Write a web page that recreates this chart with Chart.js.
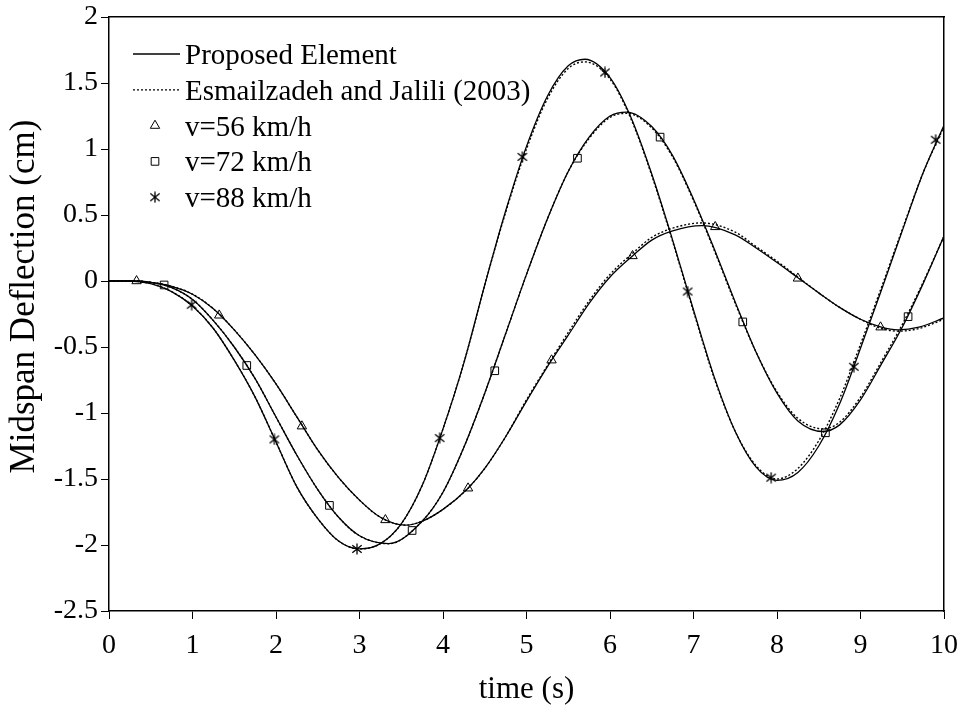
<!DOCTYPE html>
<html>
<head>
<meta charset="utf-8">
<script src="https://cdn.jsdelivr.net/npm/chart.js@4.4.0/dist/chart.umd.min.js"></script>
<style>
  html, body { margin: 0; padding: 0; background: #fff; }
</style>
</head>
<body>
<canvas id="deflectionChart" width="964" height="711"></canvas>
<script>
// axis ticks
const xTicks = [0, 1, 2, 3, 4, 5, 6, 7, 8, 9, 10];
const yTicks = [-2.5, -2, -1.5, -1, -0.5, 0, 0.5, 1, 1.5, 2];

// Proposed Element (solid)
const t56 = [0, 0.25, 0.5, 0.75, 1.0, 1.25, 1.5, 1.75, 2.0, 2.25, 2.5, 2.75, 3.0, 3.25, 3.55, 3.75, 4.0, 4.3, 4.5, 4.75, 5.0, 5.3, 5.5, 5.75, 6.0, 6.27, 6.5, 6.75, 7.1, 7.5, 7.75, 8.0, 8.25, 8.5, 8.75, 9.0, 9.25, 9.45, 9.7, 10];
const v56 = [0, 0, -0.01, -0.04, -0.10, -0.21, -0.37, -0.56, -0.78, -1.03, -1.28, -1.49, -1.66, -1.79, -1.85, -1.82, -1.73, -1.57, -1.42, -1.18, -0.91, -0.60, -0.41, -0.17, 0.03, 0.19, 0.31, 0.38, 0.42, 0.35, 0.25, 0.14, 0.025, -0.09, -0.20, -0.29, -0.35, -0.37, -0.35, -0.28];

const t72 = [0, 0.25, 0.5, 0.75, 1.0, 1.25, 1.5, 1.75, 2.0, 2.25, 2.5, 2.75, 3.0, 3.35, 3.75, 4.0, 4.25, 4.5, 4.75, 5.0, 5.25, 5.5, 5.75, 6.0, 6.2, 6.5, 6.75, 7.0, 7.25, 7.5, 7.75, 8.0, 8.25, 8.55, 8.75, 9.0, 9.25, 9.5, 9.75, 10];
const v72 = [0, 0, -0.01, -0.05, -0.14, -0.30, -0.50, -0.74, -1.03, -1.32, -1.58, -1.79, -1.93, -1.99, -1.82, -1.60, -1.26, -0.85, -0.40, 0.05, 0.47, 0.83, 1.09, 1.25, 1.28, 1.17, 0.95, 0.62, 0.24, -0.16, -0.54, -0.85, -1.06, -1.14, -1.09, -0.90, -0.63, -0.35, -0.02, 0.34];

const t88 = [0, 0.25, 0.5, 0.75, 1.0, 1.25, 1.5, 1.75, 2.0, 2.25, 2.5, 2.75, 3.0, 3.25, 3.5, 3.75, 4.0, 4.25, 4.5, 4.75, 5.0, 5.25, 5.5, 5.7, 6.0, 6.25, 6.5, 6.75, 7.0, 7.25, 7.5, 7.75, 8.0, 8.25, 8.5, 8.75, 9.0, 9.25, 9.5, 9.75, 10];
const v88 = [0, 0, -0.02, -0.08, -0.19, -0.36, -0.60, -0.88, -1.22, -1.56, -1.80, -1.97, -2.03, -1.99, -1.84, -1.55, -1.12, -0.62, -0.03, 0.53, 1.02, 1.40, 1.63, 1.68, 1.54, 1.24, 0.81, 0.31, -0.22, -0.73, -1.14, -1.41, -1.51, -1.45, -1.25, -0.93, -0.51, -0.07, 0.38, 0.82, 1.18];

// Esmailzadeh and Jalili (2003) (dotted)
const e56 = [0, 0, -0.01, -0.04, -0.10, -0.21, -0.37, -0.56, -0.78, -1.03, -1.28, -1.49, -1.66, -1.79, -1.85, -1.82, -1.73, -1.57, -1.42, -1.18, -0.90, -0.59, -0.39, -0.15, 0.05, 0.21, 0.33, 0.40, 0.44, 0.37, 0.26, 0.15, 0.03, -0.09, -0.20, -0.29, -0.36, -0.38, -0.36, -0.29];
const e72 = [0, 0, -0.01, -0.05, -0.14, -0.30, -0.50, -0.74, -1.03, -1.32, -1.58, -1.79, -1.93, -1.99, -1.82, -1.60, -1.26, -0.85, -0.40, 0.05, 0.47, 0.83, 1.08, 1.24, 1.27, 1.16, 0.94, 0.61, 0.23, -0.17, -0.54, -0.84, -1.04, -1.12, -1.07, -0.88, -0.61, -0.33, -0.01, 0.34];
const e88 = [0, 0, -0.02, -0.08, -0.19, -0.36, -0.60, -0.88, -1.22, -1.56, -1.80, -1.97, -2.03, -1.99, -1.84, -1.55, -1.12, -0.62, -0.03, 0.52, 1.00, 1.38, 1.61, 1.66, 1.53, 1.23, 0.80, 0.30, -0.23, -0.74, -1.14, -1.40, -1.50, -1.42, -1.21, -0.89, -0.48, -0.05, 0.39, 0.82, 1.17];

// sampled markers
const m56x = [0.33, 1.32, 2.31, 3.31, 4.30, 5.30, 6.27, 7.26, 8.25, 9.24];
const m56y = [0, -0.26, -1.10, -1.81, -1.57, -0.60, 0.19, 0.41, 0.02, -0.35];
const m72x = [0.66, 1.65, 2.64, 3.63, 4.62, 5.61, 6.60, 7.59, 8.58, 9.57];
const m72y = [-0.03, -0.64, -1.70, -1.89, -0.68, 0.93, 1.09, -0.31, -1.15, -0.27];
const m88x = [0.99, 1.98, 2.97, 3.96, 4.95, 5.94, 6.93, 7.93, 8.92, 9.90];
const m88y = [-0.18, -1.20, -2.03, -1.19, 0.94, 1.58, -0.08, -1.49, -0.65, 1.07];

const legendLabels = ['Proposed Element', 'Esmailzadeh and Jalili (2003)', 'v=56 km/h', 'v=72 km/h', 'v=88 km/h'];

const serif = '"Liberation Serif", "Times New Roman", serif';

// six-armed asterisk marker like the original
function asteriskMarker(size) {
    const c = document.createElement('canvas');
    c.width = size;
    c.height = size;
    const g = c.getContext('2d');
    const m = size / 2, r = size / 2 - 0.5;
    g.strokeStyle = '#000';
    g.lineWidth = 1.3;
    g.beginPath();
    g.moveTo(m, m - r); g.lineTo(m, m + r);
    g.moveTo(m - r * 0.85, m - r * 0.7); g.lineTo(m + r * 0.85, m + r * 0.7);
    g.moveTo(m - r * 0.85, m + r * 0.7); g.lineTo(m + r * 0.85, m - r * 0.7);
    g.stroke();
    return c;
}
const starMark = asteriskMarker(12);

function toPoints(xs, ys) {
    return xs.map(function(x, i) { return { x: x, y: ys[i] }; });
}

function markerSet(xs, ys, style, r) {
    return {
        data: toPoints(xs, ys),
        showLine: false,
        pointStyle: style,
        pointRadius: r,
        pointBorderColor: '#000',
        pointBackgroundColor: 'rgba(0,0,0,0)',
        pointBorderWidth: 1
    };
}

function curveSet(ts, vs, dash) {
    return {
        data: toPoints(ts, vs),
        showLine: true,
        borderColor: '#000',
        borderWidth: dash ? 1.4 : 1.3,
        borderDash: dash || [],
        pointRadius: 0,
        cubicInterpolationMode: 'monotone',
        fill: false
    };
}

// legend drawn inside the plot, top left
const insideLegend = {
    id: 'insideLegend',
    afterDatasetsDraw(chart) {
        const ctx = chart.ctx;
        const left = chart.chartArea.left;
        const rowTop = 54, rowGap = 35.8;
        const styles = [null, null, 'triangle', 'rect', starMark];
        const radii = [0, 0, 5.4, 5.4, 6];
        ctx.save();
        ctx.strokeStyle = '#000';
        legendLabels.forEach(function(label, i) {
            const y = rowTop + i * rowGap;
            if (i < 2) {
                ctx.lineWidth = 1.3;
                ctx.beginPath();
                ctx.setLineDash(i === 1 ? [2, 2] : []);
                ctx.moveTo(left + 24, y);
                ctx.lineTo(left + 71, y);
                ctx.stroke();
                ctx.setLineDash([]);
            } else {
                ctx.lineWidth = 1;
                ctx.fillStyle = 'rgba(0,0,0,0)';
                Chart.helpers.drawPoint(ctx, { pointStyle: styles[i], radius: radii[i], rotation: 0, borderWidth: 1 }, left + 46, y);
            }
            ctx.fillStyle = '#000';
            ctx.font = '29px ' + serif;
            ctx.textBaseline = 'alphabetic';
            ctx.textAlign = 'left';
            ctx.fillText(label, left + 76, y + 10);
        });
        ctx.restore();
    }
};

const ctx = document.getElementById('deflectionChart').getContext('2d');
const deflectionChart = new Chart(ctx, {
    type: 'scatter',
    data: {
        datasets: [
            markerSet(m56x, m56y, 'triangle', 5.4),
            markerSet(m72x, m72y, 'rect', 5.4),
            markerSet(m88x, m88y, starMark, 6),
            curveSet(t56, v56),
            curveSet(t72, v72),
            curveSet(t88, v88),
            curveSet(t56, e56, [2, 2]),
            curveSet(t72, e72, [2, 2]),
            curveSet(t88, e88, [2, 2])
        ]
    },
    options: {
        responsive: false,
        animation: false,
        devicePixelRatio: 1,
        layout: {
            padding: { top: 17, right: 20, bottom: 0, left: 0 }
        },
        scales: {
            x: {
                type: 'linear',
                position: 'bottom',
                min: 0,
                max: 10,
                afterBuildTicks: function(scale) {
                    scale.ticks = xTicks.map(function(v) { return { value: v }; });
                },
                afterFit: function(scale) {
                    scale.height = 100;
                    scale.paddingLeft = 0;
                    scale.paddingRight = 0;
                },
                ticks: {
                    color: '#000',
                    font: { family: serif, size: 28 },
                    padding: 10,
                    maxRotation: 0,
                    callback: function(value) { return String(value); }
                },
                grid: {
                    drawOnChartArea: false,
                    drawTicks: true,
                    tickLength: 8,
                    color: '#000',
                    lineWidth: 1
                },
                border: { display: true, color: '#000', width: 1.5 },
                title: {
                    display: true,
                    text: 'time (s)',
                    color: '#000',
                    font: { family: serif, size: 31 },
                    padding: { top: 0, bottom: 3 }
                }
            },
            y: {
                type: 'linear',
                position: 'left',
                min: -2.5,
                max: 2,
                afterBuildTicks: function(scale) {
                    scale.ticks = yTicks.map(function(v) { return { value: v }; });
                },
                afterFit: function(scale) {
                    scale.width = 109;
                    scale.paddingTop = 0;
                    scale.paddingBottom = 0;
                },
                ticks: {
                    color: '#000',
                    font: { family: serif, size: 28 },
                    padding: 3,
                    callback: function(value) { return String(value); }
                },
                grid: {
                    drawOnChartArea: false,
                    drawTicks: true,
                    tickLength: 8,
                    color: '#000',
                    lineWidth: 1
                },
                border: { display: true, color: '#000', width: 1.5 },
                title: {
                    display: true,
                    // leading spaces nudge the centred title upward like the original
                    text: '    Midspan Deflection (cm)',
                    color: '#000',
                    font: { family: serif, size: 35 },
                    padding: { top: 4, bottom: 0 }
                }
            },
            xTop: {
                type: 'linear',
                position: 'top',
                min: 0,
                max: 10,
                ticks: { display: false },
                grid: { display: false, drawTicks: false },
                border: { display: true, color: '#000', width: 1.5 },
                afterFit: function(scale) { scale.height = 0; }
            },
            yRight: {
                type: 'linear',
                position: 'right',
                min: -2.5,
                max: 2,
                ticks: { display: false },
                grid: { display: false, drawTicks: false },
                border: { display: true, color: '#000', width: 1.5 },
                afterFit: function(scale) { scale.width = 0; }
            }
        },
        plugins: {
            legend: { display: false },
            tooltip: { enabled: false }
        }
    },
    plugins: [insideLegend]
});
</script>
</body>
</html>
